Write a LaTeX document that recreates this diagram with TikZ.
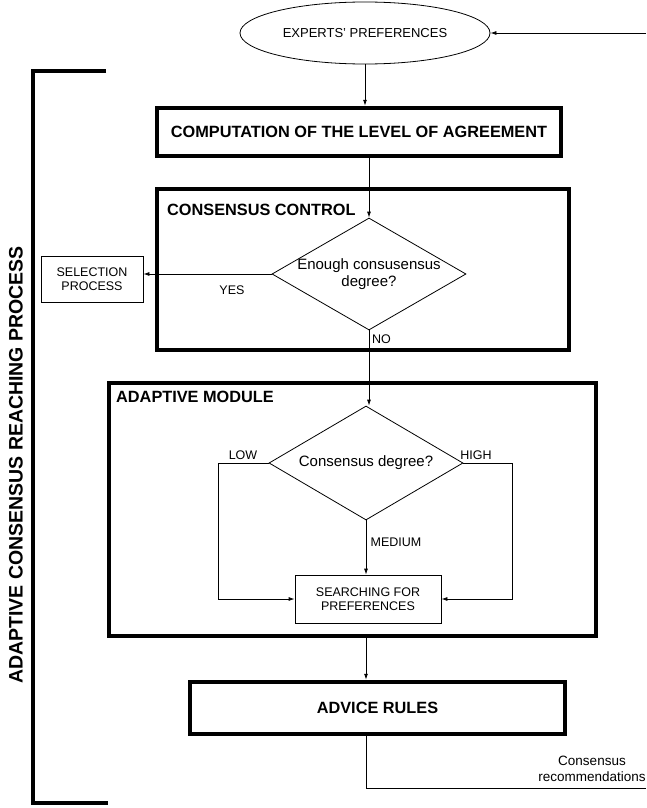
\documentclass[tikz,border=0pt]{standalone}
\usepackage{fontspec}
\setmainfont{Liberation Sans}
\usetikzlibrary{shapes.geometric,arrows.meta}
\begin{document}
\begin{tikzpicture}[x=1pt,y=-1pt,
  thickbox/.style={draw,line width=4.5pt,inner sep=0pt},
  thinbox/.style={draw,line width=0.8pt,inner sep=0pt,align=center,font=\fontsize{12.5}{14.5}\selectfont},
  decision/.style={draw,diamond,line width=0.8pt,inner sep=0pt},
  conn/.style={line width=0.8pt},
  arr/.style={conn,-{Latex[length=6pt,width=4pt]}},
  bigtitle/.style={font=\bfseries\fontsize{16.3}{18}\selectfont,inner sep=0pt},
  lbl/.style={font=\fontsize{12.5}{14.5}\selectfont,inner sep=0pt}
]
\useasboundingbox (0,0) rectangle (646,808);
% experts' preferences
\node[draw,ellipse,line width=0.8pt,minimum width=250pt,minimum height=62pt,inner sep=0pt,font=\fontsize{13}{15}\selectfont] (ell) at (365,33) {EXPERTS' PREFERENCES};
\coordinate (inR) at (646,33);
\draw[arr] (inR) -- (ell.east);
% computation box
\node[thickbox,minimum width=404pt,minimum height=48pt,bigtitle] (comp) at (359,132) {COMPUTATION OF THE LEVEL OF AGREEMENT};
\draw[arr] (ell.south) -- (ell.south |- comp.north);
% consensus control
\node[thickbox,minimum width=412pt,minimum height=161pt] (cc) at (363,269.5) {};
\node[bigtitle,anchor=west] (cct) at (167,210) {CONSENSUS CONTROL};
\node[decision,minimum width=194pt,minimum height=112pt,
  label={[align=center,font=\fontsize{15}{17.5}\selectfont]center:Enough consusensus\\degree?}] (d1) at (369,274) {};
\draw[arr] (comp.south -| d1.north) -- (d1.north);
\node[thinbox,minimum width=102pt,minimum height=46pt] (sel) at (92,279) {SELECTION\\PROCESS};
\draw[arr] (d1.west) -- (d1.west -| sel.east);
\node[lbl] (yes) at (232,290) {YES};
\node[lbl,anchor=west] (no) at (372,339) {NO};
% adaptive module
\node[thickbox,minimum width=487pt,minimum height=253pt] (am) at (352.5,509.5) {};
\node[bigtitle,anchor=west] (amt) at (116,397) {ADAPTIVE MODULE};
\node[decision,minimum width=194pt,minimum height=114pt,
  label={[font=\fontsize{15}{17.5}\selectfont]center:Consensus degree?}] (d2) at (366,463) {};
\draw[arr] (d1.south) -- (d1.south |- d2.north);
\node[thinbox,minimum width=146pt,minimum height=48pt] (srch) at (368,599) {SEARCHING FOR\\PREFERENCES};
\coordinate (lowc) at (218,463);
\coordinate (highc) at (512,463);
\draw[arr] (d2.west) -- (lowc) -- (lowc |- srch.west) -- (srch.west);
\draw[arr] (d2.east) -- (highc) -- (highc |- srch.east) -- (srch.east);
\draw[arr] (d2.south) -- (d2.south |- srch.north);
\node[lbl] (low) at (243,455) {LOW};
\node[lbl] (high) at (476,455) {HIGH};
\node[lbl] (med) at (396,542) {MEDIUM};
% advice rules
\node[thickbox,minimum width=375pt,minimum height=52pt,bigtitle] (adv) at (377.5,708) {ADVICE RULES};
\draw[arr] (am.south -| d2.south) -- (adv.north -| d2.south);
\coordinate (outR) at (646,788);
\draw[conn] (adv.south -| d2.south) -- (d2.south |- outR) -- (outR);
\node[lbl,align=center,font=\fontsize{13.5}{15.5}\selectfont] (rec) at (592,769) {Consensus\\recommendations};
% bracket
\coordinate (bt) at (106,71);
\coordinate (bb) at (108,803);
\draw[line width=4.5pt] (bt) -- (33,71) -- (33,803) -- (bb);
\node[rotate=90,font=\bfseries\fontsize{19.5}{21}\selectfont,inner sep=0pt] (vt) at (16,465) {ADAPTIVE CONSENSUS REACHING PROCESS};
\end{tikzpicture}
\end{document}
